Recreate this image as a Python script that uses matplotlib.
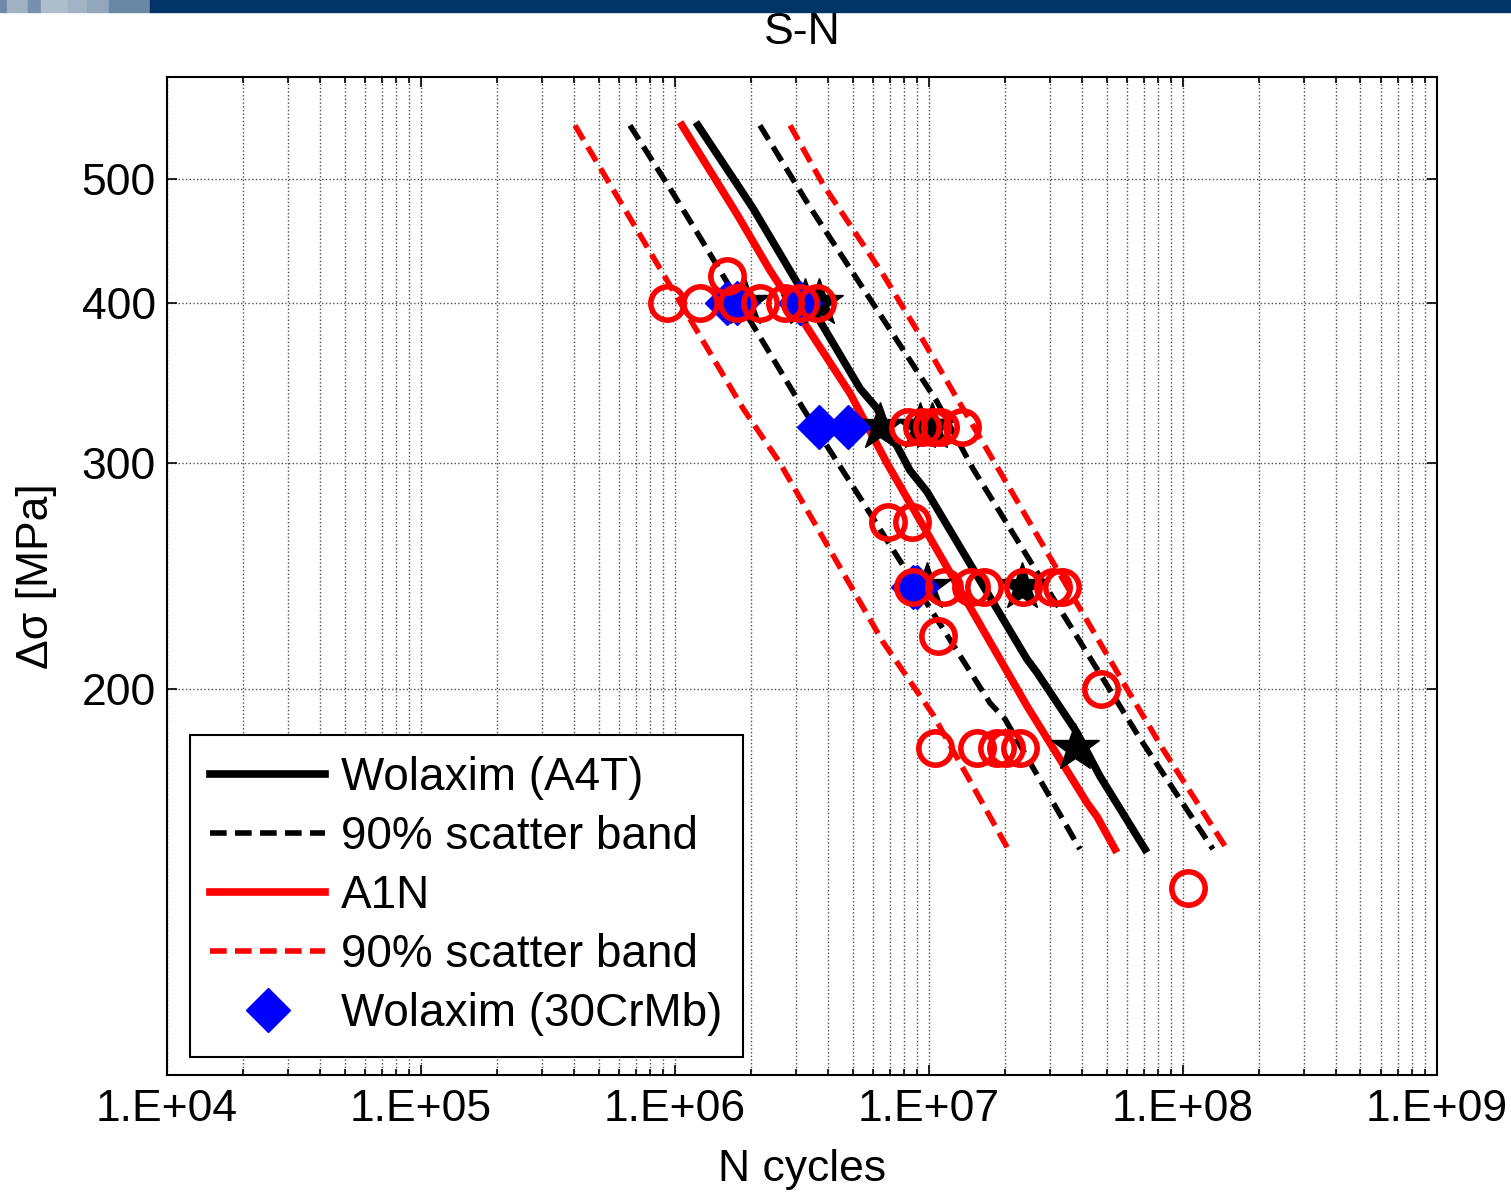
import matplotlib
matplotlib.use("Agg")
import matplotlib.pyplot as plt
from matplotlib.patches import Rectangle
from matplotlib.ticker import FixedLocator, LogLocator, NullLocator, FuncFormatter
import numpy as np

plt.rcParams["font.family"] = ["Liberation Sans", "DejaVu Sans"]

# fitted curves (N cycles, stress range MPa)
a4t_N = [1.232e6, 1.803e6, 2.028e6, 5.35e6, 6.24e6, 8.42e6, 9.82e6, 2.43e7, 2.66e7, 3.82e7, 4.71e7, 7.09e7]
a4t_S = [550, 491, 474, 343, 331, 296, 285, 211, 206, 185, 171, 150]
a4t_lo_N = [6.65e5, 9.82e5, 1.254e6, 3.19e6, 5.35e6, 1.739e7, 1.991e7, 3.93e7]
a4t_lo_S = [550, 487, 450, 331, 282, 195, 189.5, 150]
a4t_hi_N = [2.16e6, 3.40e6, 5.35e6, 1.075e7, 1.49e7, 6.77e7, 1.312e8]
a4t_hi_S = [550, 475, 414, 335, 297, 183, 150]

a1n_N = [1.066e6, 1.754e6, 2.366e6, 4.89e6, 6.83e6, 2.43e7, 4.19e7, 4.59e7, 5.40e7]
a1n_S = [550, 469, 424, 340, 300, 194, 163, 159, 150]
a1n_lo_N = [4.04e5, 1.852e6, 2.59e6, 6.59e6, 1.037e7, 2.05e7]
a1n_lo_S = [550, 331, 300, 217.6, 191, 150]
a1n_hi_N = [2.84e6, 3.82e6, 6.59e6, 9.47e6, 2.03e7, 6.02e7, 8.34e7, 1.49e8]
a1n_hi_S = [550, 495, 421, 374, 289, 200, 179.5, 150]

# test results
a1n_test_N = [1.60e6,
              9.30e5, 1.254e6, 1.754e6, 2.16e6, 2.71e6, 3.10e6, 3.62e6,
              8.3e6, 9.38e6, 1.027e7, 1.105e7, 1.349e7,
              6.90e6, 8.57e6,
              8.65e6, 1.15e7, 1.47e7, 1.64e7, 2.34e7, 3.08e7, 3.35e7,
              1.085e7,
              4.76e7,
              1.056e7, 1.545e7, 1.852e7, 2.01e7, 2.28e7,
              1.046e8]
a1n_test_S = [420,
              400, 400, 400, 400, 400, 400, 400,
              320, 320, 320, 320, 320,
              270, 270,
              240, 240, 240, 240, 240, 240, 240,
              220,
              200,
              180, 180, 180, 180, 180,
              140]

a4t_test_N = [1.886e6, 3.25e6, 3.69e6, 6.41e6, 9.2e6, 1.03e7, 9.8e6, 2.32e7, 3.76e7]
a4t_test_S = [400, 400, 400, 320, 320, 320, 240, 240, 180]

crmb_test_N = [1.60e6, 1.754e6, 3.10e6, 3.69e6, 4.80e6, 8.65e6, 8.97e6]
crmb_test_S = [400, 400, 400, 320, 320, 240, 240]

fig = plt.figure(figsize=(15.11, 11.93), dpi=100)
ax = fig.add_axes([0.1105, 0.0989, 0.8405, 0.8366])

# header strip
strip = [(0, 7, "#6f8aa8"), (7, 28, "#a0b1c4"), (28, 41, "#7890ab"), (41, 68, "#afbecd"),
         (68, 87, "#a3b3c6"), (87, 109, "#93a7bc"), (109, 150, "#6a87a6"), (150, 1511, "#003466")]
for x0, x1, c in strip:
    fig.patches.append(Rectangle((x0 / 1511, 1 - 12 / 1193), (x1 - x0) / 1511, 12 / 1193,
                                 transform=fig.transFigure, color=c, zorder=0))

ax.plot(a4t_N, a4t_S, color="k", lw=5.5, label="Wolaxim (A4T)")
ax.plot(a4t_lo_N, a4t_lo_S, color="k", lw=4, dashes=(3, 1.5), label="90% scatter band")
ax.plot(a4t_hi_N, a4t_hi_S, color="k", lw=4, dashes=(3, 1.5))
ax.plot(a1n_N, a1n_S, color="r", lw=5.5, label="A1N")
ax.plot(a1n_lo_N, a1n_lo_S, color="r", lw=4, dashes=(3, 1.5), label="90% scatter band")
ax.plot(a1n_hi_N, a1n_hi_S, color="r", lw=4, dashes=(3, 1.5))

ax.plot(a4t_test_N, a4t_test_S, ls="none", marker="*", ms=36, color="k")
ax.plot(crmb_test_N, crmb_test_S, ls="none", marker="D", ms=22, color="b", mec="b",
        label="Wolaxim (30CrMb)")
ax.plot(a1n_test_N, a1n_test_S, ls="none", marker="o", ms=24, mfc="none", mec="r", mew=4)

ax.set_xscale("log")
ax.set_yscale("log")
ax.set_xlim(1e4, 1e9)
ax.set_ylim(100, 600)

ax.xaxis.set_major_locator(LogLocator(base=10, numticks=10))
ax.xaxis.set_minor_locator(LogLocator(base=10, subs=np.arange(2, 10), numticks=20))
ax.xaxis.set_major_formatter(FuncFormatter(lambda v, p: "1.E+%02d" % round(np.log10(v))))
ax.yaxis.set_major_locator(FixedLocator([200, 300, 400, 500]))
ax.yaxis.set_minor_locator(NullLocator())
ax.yaxis.set_major_formatter(FuncFormatter(lambda v, p: "%d" % v))

ax.tick_params(which="both", direction="in", top=True, right=True, labelsize=32, width=1.2)
ax.tick_params(which="major", length=7)
ax.tick_params(which="minor", length=4)
ax.tick_params(axis="x", pad=10)
ax.tick_params(axis="y", pad=8)

ax.grid(True, which="major", color="0.3", ls=":", lw=1.0)
ax.grid(True, which="minor", axis="x", color="0.3", ls=":", lw=1.0)
for s in ax.spines.values():
    s.set_linewidth(1.5)

ax.set_title("S-N", fontsize=32, pad=24)
ax.set_xlabel("N cycles", fontsize=32, labelpad=14)
ax.set_ylabel("Δσ [MPa]", fontsize=32, labelpad=18)

leg = ax.legend(loc="lower left", bbox_to_anchor=(0.018, 0.018), fontsize=33, fancybox=False,
                framealpha=1, edgecolor="k", handlelength=2.5, handletextpad=0.35,
                labelspacing=0.33, borderpad=0.45, borderaxespad=0)
leg.get_frame().set_linewidth(1.5)

fig.savefig("out.png", dpi=100)
